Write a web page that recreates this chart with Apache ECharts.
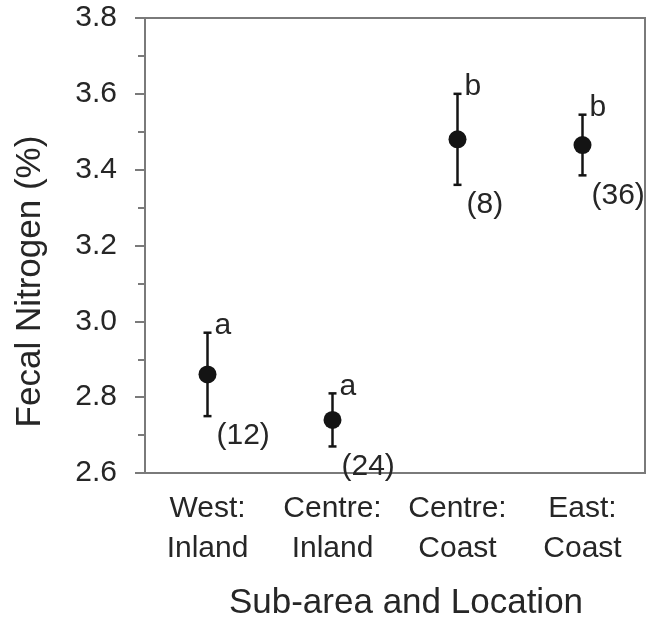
<!DOCTYPE html>
<html>
<head>
<meta charset="utf-8">
<style>
  html, body { margin: 0; padding: 0; background: #fff; }
  #chart { width: 652px; height: 619px; }
</style>
<script src="https://cdn.jsdelivr.net/npm/echarts@6/dist/echarts.min.js"></script>
</head>
<body>
<div id="chart"></div>
<script>
// Data
const categories = ['West:\nInland', 'Centre:\nInland', 'Centre:\nCoast', 'East:\nCoast'];
const means = [2.86, 2.74, 3.48, 3.465];
const upper = [2.97, 2.81, 3.60, 3.545];
const lower = [2.75, 2.67, 3.36, 3.385];
const groupLetters = ['a', 'a', 'b', 'b'];
const sampleSizes = [12, 24, 8, 36];

const FONT = '"Liberation Sans", Arial, Helvetica, sans-serif';
const TEXT = '#262626';
const AXIS = '#7a7a7a';
const MARK = '#141414';

const chart = echarts.init(document.getElementById('chart'), null, { renderer: 'canvas' });

// error bar + annotations drawn through the axis coordinates
const errorData = categories.map((c, i) => [i, lower[i], upper[i]]);

function renderErrorBar(params, api) {
	const idx = api.value(0);
	const top = api.coord([idx, api.value(2)]);
	const bot = api.coord([idx, api.value(1)]);
	const cap = 4;
	const lineStyle = { stroke: MARK, lineWidth: 2.5 };
	return {
		type: 'group',
		children: [
			{ type: 'line', shape: { x1: top[0], y1: top[1], x2: bot[0], y2: bot[1] }, style: lineStyle },
			{ type: 'line', shape: { x1: top[0] - cap, y1: top[1], x2: top[0] + cap, y2: top[1] }, style: lineStyle },
			{ type: 'line', shape: { x1: bot[0] - cap, y1: bot[1], x2: bot[0] + cap, y2: bot[1] }, style: lineStyle },
			{
				type: 'text',
				x: top[0] + 7, y: top[1] - 7,
				style: { text: groupLetters[idx], fill: TEXT, font: '30px ' + FONT, verticalAlign: 'middle', align: 'left' }
			},
			{
				type: 'text',
				x: bot[0] + 9, y: bot[1] + 20,
				style: { text: '(' + sampleSizes[idx] + ')', fill: TEXT, font: '30px ' + FONT, verticalAlign: 'middle', align: 'left' }
			}
		]
	};
}

const option = {
	animation: false,
	backgroundColor: '#fff',
	grid: {
		left: 145,
		right: 7,
		top: 18,
		bottom: 146,
		outerBoundsMode: 'none',
		show: true,
		borderColor: AXIS,
		borderWidth: 2
	},
	xAxis: {
		type: 'category',
		data: categories,
		name: 'Sub-area and Location',
		nameLocation: 'middle',
		nameGap: 113,
		nameTextStyle: { color: TEXT, fontSize: 35, fontFamily: FONT, padding: [0, 0, 0, 22] },
		axisLine: { lineStyle: { color: AXIS, width: 2 } },
		axisTick: { show: false },
		axisLabel: { color: TEXT, fontSize: 30, fontFamily: FONT, lineHeight: 40, margin: 16, interval: 0 },
		splitLine: { show: false }
	},
	yAxis: {
		type: 'value',
		min: 2.6,
		max: 3.8,
		interval: 0.2,
		name: 'Fecal Nitrogen (%)',
		nameLocation: 'middle',
		nameRotate: 90,
		nameGap: 97,
		nameTextStyle: { color: TEXT, fontSize: 35, fontFamily: FONT, padding: [0, 72, 0, 0] },
		axisLine: { show: true, lineStyle: { color: AXIS, width: 2 } },
		axisTick: { show: true, inside: false, length: 10, lineStyle: { color: AXIS, width: 2 } },
		minorTick: { show: true, splitNumber: 2, length: 7, lineStyle: { color: AXIS, width: 2 } },
		axisLabel: { color: TEXT, fontSize: 30, fontFamily: FONT, margin: 28, formatter: v => v.toFixed(1) },
		splitLine: { show: false }
	},
	series: [
		{
			type: 'custom',
			renderItem: renderErrorBar,
			data: errorData,
			encode: { x: 0, y: [1, 2] },
			z: 2
		},
		{
			type: 'scatter',
			data: means.map((m, i) => [i, m]),
			symbol: 'circle',
			symbolSize: 18,
			itemStyle: { color: MARK, opacity: 1 },
			z: 3
		}
	]
};

chart.setOption(option);
</script>
</body>
</html>
